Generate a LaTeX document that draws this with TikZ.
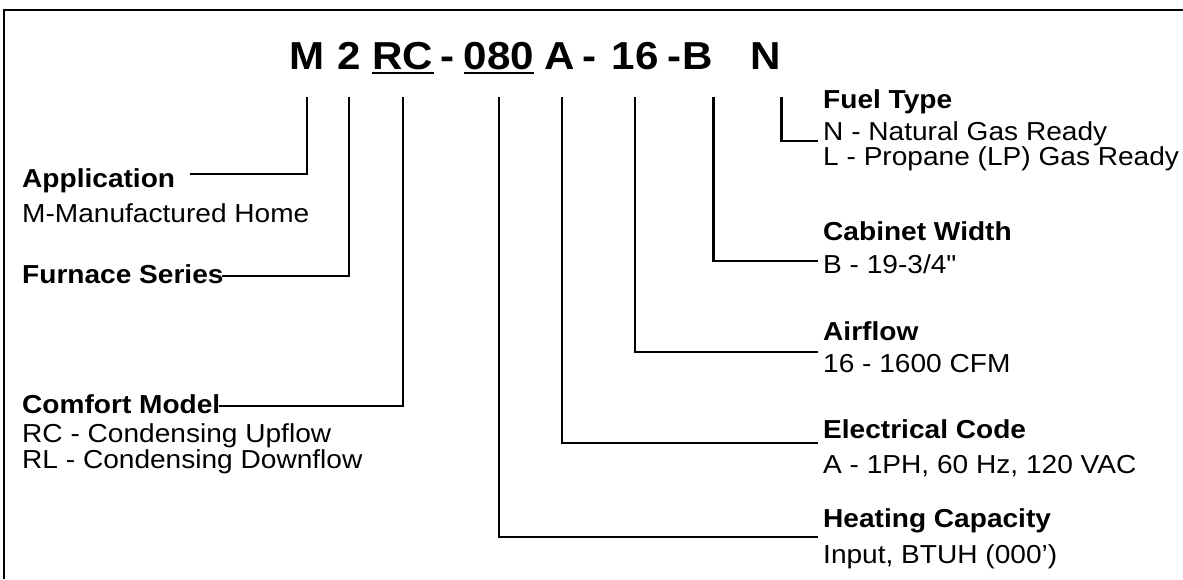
\documentclass[tikz,border=0pt]{standalone}
\usepackage{fontspec}
\setmainfont{Liberation Sans}[FakeStretch=1.08]
\usepackage{tikz}
\usetikzlibrary{positioning}

\begin{document}
\begin{tikzpicture}[x=1pt,y=-1pt,
        code/.style={inner sep=0pt,text depth=0pt,anchor=base,font=\fontsize{39}{39}\selectfont\bfseries},
        head/.style={inner sep=0pt,anchor=base west,font=\fontsize{26}{26}\selectfont\bfseries},
        body/.style={inner sep=0pt,anchor=base west,font=\fontsize{26}{26}\selectfont},
        lead/.style={line width=2.6pt},
        uline/.style={line width=2pt}]
        \useasboundingbox (0,0) rectangle (1183,579);
        \draw[line width=1.3pt] (1183,10) -- (4,10) -- (4,579);

        \node[code] (cM) at (307,69) {M};
        \node[code] (c2) at (349,69) {2};
        \node[code] (cRC) at (403,69) {RC};
        \node[code] (d1) at (448,69) {-};
        \node[code] (c080) at (499,69) {080};
        \node[code] (cA) at (560,69) {A};
        \node[code] (d2) at (590,69) {-};
        \node[code] (c16) at (635,69) {16};
        \node[code] (d3) at (675,69) {-};
        \node[code] (cB) at (698,69) {B};
        \node[code] (cN) at (766,69) {N};
        \draw[uline] ([yshift=-4pt]cRC.south west) -- ([yshift=-4pt]cRC.south east);
        \draw[uline] ([yshift=-4pt]c080.south west) -- ([yshift=-4pt]c080.south east);

        \node[head] (app) at (22,187) {Application};
        \node[body] (appM) at (22,222) {M-Manufactured Home};
        \node[head] (fur) at (22,283) {Furnace Series};
        \node[head] (com) at (22,413) {Comfort Model};
        \node[body] (comRC) at (22,442) {RC - Condensing Upflow};
        \node[body] (comRL) at (22,468) {RL - Condensing Downflow};

        \node[head] (fuel) at (823,108) {Fuel Type};
        \node[body] (fuelN) at (823,140) {N - Natural Gas Ready};
        \node[body] (fuelL) at (823,165) {L - Propane (LP) Gas Ready};
        \node[head] (cab) at (823,240) {Cabinet Width};
        \node[body] (cabB) at (823,273) {\addfontfeatures{Ligatures=TeXOff}B - 19-3/4"};
        \node[head] (air) at (823,340) {Airflow};
        \node[body] (air16) at (823,372) {16 - 1600 CFM};
        \node[head] (ele) at (823,438) {Electrical Code};
        \node[body] (eleA) at (823,473) {A - 1PH, 60 Hz, 120 VAC};
        \node[head] (hea) at (823,527) {Heating Capacity};
        \node[body] (heaIn) at (823,563) {Input, BTUH (000')};

        \coordinate (eApp) at (190,174);
        \coordinate (eFur) at (222,276);
        \coordinate (eCom) at (219,406);
        \coordinate (eFuel) at (818,141);
        \coordinate (eCab) at (818,261);
        \coordinate (eAir) at (818,352);
        \coordinate (eEle) at (818,443);
        \coordinate (eHea) at (818,537);

        \draw[lead] ([yshift=-28pt]cM.south) |- (eApp);
        \draw[lead] ([yshift=-28pt]c2.south) |- (eFur);
        \draw[lead] ([yshift=-28pt]cRC.south) |- (eCom);
        \draw[lead] ([yshift=-28pt]c080.south) |- (eHea);
        \draw[lead] ([yshift=-28pt,xshift=2pt]cA.south) |- (eEle);
        \draw[lead] ([yshift=-28pt]c16.south) |- (eAir);
        \draw[lead] ([yshift=-28pt]cB.south east) |- (eCab);
        \draw[lead] ([yshift=-28pt]cN.south east) |- (eFuel);
\end{tikzpicture}
\end{document}
